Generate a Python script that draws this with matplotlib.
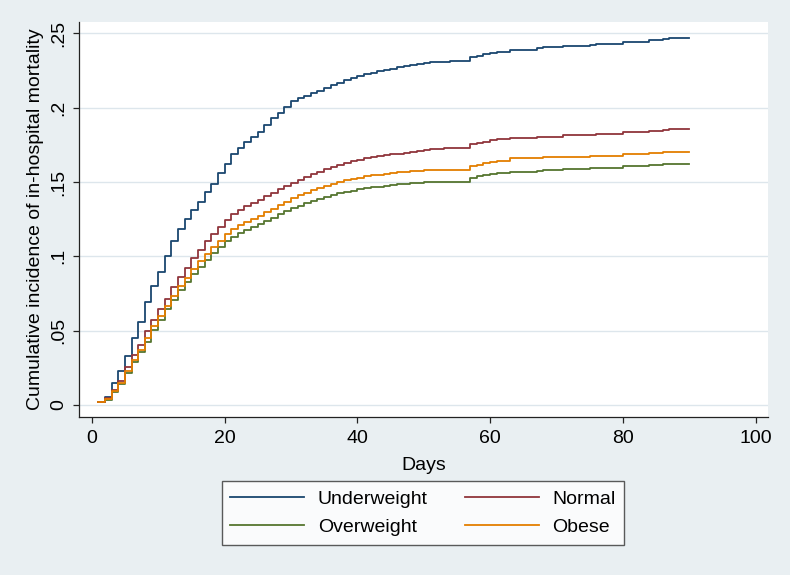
import numpy as np
import matplotlib
matplotlib.use("Agg")
import matplotlib.pyplot as plt

plt.rcParams['font.family'] = ['Liberation Sans', 'DejaVu Sans']

# ---------- data: cumulative incidence per day (days 1..90) ----------
days = np.arange(1, 91)

underweight = [
    .0022, .0056, .0150, .0229, .0332, .0449, .0556, .0695, .0800, .0897,
    .1002, .1103, .1184, .1249, .1312, .1367, .1430, .1484, .1558, .1621,
    .1688, .1730, .1768, .1800, .1838, .1883, .1928, .1966, .2002, .2047,
    .2063, .2078, .2096, .2112, .2130, .2152, .2168, .2186, .2201, .2215,
    .2226, .2235, .2244, .2253, .2262, .2271, .2280, .2287, .2296, .2302,
    .2306, .2308, .2310, .2314, .2314, .2314, .2343, .2350, .2358, .2366,
    .2376, .2376, .2388, .2388, .2388, .2388, .2400, .2410, .2410, .2410,
    .2417, .2417, .2417, .2417, .2422, .2428, .2428, .2428, .2428, .2441,
    .2441, .2441, .2441, .2455, .2455, .2463, .2471, .2471, .2471, .2471,
]

normal = [
    .0022, .0045, .0100, .0160, .0258, .0336, .0404, .0495, .0572, .0645,
    .0715, .0790, .0862, .0922, .0990, .1045, .1100, .1148, .1198, .1242,
    .1285, .1312, .1336, .1358, .1380, .1404, .1428, .1450, .1472, .1495,
    .1515, .1535, .1552, .1568, .1585, .1600, .1615, .1627, .1639, .1650,
    .1658, .1665, .1672, .1679, .1685, .1691, .1697, .1703, .1709, .1714,
    .1719, .1724, .1731, .1731, .1731, .1731, .1753, .1762, .1771, .1780,
    .1787, .1787, .1794, .1794, .1794, .1794, .1800, .1805, .1805, .1805,
    .1814, .1814, .1814, .1814, .1818, .1821, .1821, .1821, .1821, .1834,
    .1834, .1834, .1834, .1845, .1845, .1850, .1854, .1854, .1854, .1854,
]

overweight = [
    .0018, .0035, .0085, .0140, .0213, .0287, .0359, .0426, .0504, .0572,
    .0643, .0706, .0773, .0830, .0881, .0931, .0975, .1020, .1062, .1100,
    .1130, .1155, .1177, .1195, .1215, .1238, .1260, .1282, .1303, .1323,
    .1341, .1358, .1373, .1387, .1400, .1412, .1423, .1433, .1442, .1450,
    .1457, .1463, .1469, .1474, .1479, .1483, .1487, .1491, .1494, .1497,
    .1499, .1501, .1502, .1502, .1502, .1502, .1529, .1538, .1547, .1556,
    .1563, .1563, .1570, .1570, .1570, .1570, .1575, .1581, .1581, .1581,
    .1590, .1590, .1590, .1590, .1593, .1596, .1596, .1596, .1596, .1607,
    .1607, .1607, .1607, .1616, .1616, .1618, .1621, .1621, .1621, .1621,
]

obese = [
    .0022, .0040, .0095, .0150, .0230, .0300, .0372, .0450, .0530, .0600,
    .0668, .0732, .0798, .0852, .0915, .0965, .1013, .1062, .1105, .1150,
    .1185, .1210, .1233, .1250, .1270, .1295, .1320, .1345, .1368, .1390,
    .1410, .1428, .1444, .1459, .1474, .1487, .1499, .1510, .1520, .1529,
    .1537, .1544, .1550, .1556, .1561, .1565, .1569, .1572, .1575, .1577,
    .1579, .1580, .1581, .1581, .1581, .1581, .1607, .1617, .1627, .1636,
    .1643, .1643, .1659, .1659, .1659, .1659, .1663, .1667, .1667, .1667,
    .1671, .1671, .1671, .1671, .1673, .1675, .1675, .1675, .1675, .1686,
    .1686, .1686, .1686, .1695, .1695, .1699, .1702, .1702, .1702, .1702,
]

x_ticks = [0, 20, 40, 60, 80, 100]
y_ticks = [0, .05, .1, .15, .2, .25]
y_tick_labels = ["0", ".05", ".1", ".15", ".2", ".25"]

# Stata s2color palette
series = [
    ("Underweight", underweight, "#1A476F"),
    ("Overweight", overweight, "#55752F"),
    ("Normal", normal, "#90353B"),
    ("Obese", obese, "#E37E00"),
]

# ---------- figure ----------
bg = "#E9EFF2"
fig = plt.figure(figsize=(7.9, 5.75), dpi=100, facecolor=bg)
ax = fig.add_axes([0.1004, 0.2743, 0.8721, 0.688])
ax.set_facecolor("white")

for label, vals, color in series:
    ax.step(days, vals, where="post", color=color, linewidth=1.3, label=label)

ax.set_xlim(-1.87, 101.9)
ax.set_ylim(-0.0083, 0.2578)
ax.set_xticks(x_ticks)
ax.set_yticks(y_ticks)
ax.set_yticklabels(y_tick_labels, rotation=90, va="center")

ax.yaxis.grid(True, color="#DDE6EC", linewidth=1.0)
ax.set_axisbelow(True)

for side in ["top", "right"]:
    ax.spines[side].set_visible(False)
for side in ["left", "bottom"]:
    ax.spines[side].set_color("#222222")
    ax.spines[side].set_linewidth(0.9)

ax.tick_params(axis="both", direction="out", length=4.5, width=0.9,
               color="#222222", labelsize=14)
ax.tick_params(axis="x", pad=5)
ax.tick_params(axis="y", pad=4)

ax.set_xlabel("Days", fontsize=14, labelpad=7)
ax.set_ylabel("Cumulative incidence of in-hospital mortality", fontsize=14, labelpad=5)

leg = fig.legend(
    loc="center",
    bbox_to_anchor=(423 / 790, 1 - 513 / 575),
    ncol=2,
    fontsize=14,
    frameon=True,
    fancybox=False,
    handlelength=3.8,
    handletextpad=0.7,
    columnspacing=1.9,
    labelspacing=0.55,
    borderpad=0.45,
)
leg.get_frame().set_edgecolor("#333333")
leg.get_frame().set_linewidth(1.0)
leg.get_frame().set_facecolor("white")

fig.savefig("out.png", dpi=100, facecolor=bg)
